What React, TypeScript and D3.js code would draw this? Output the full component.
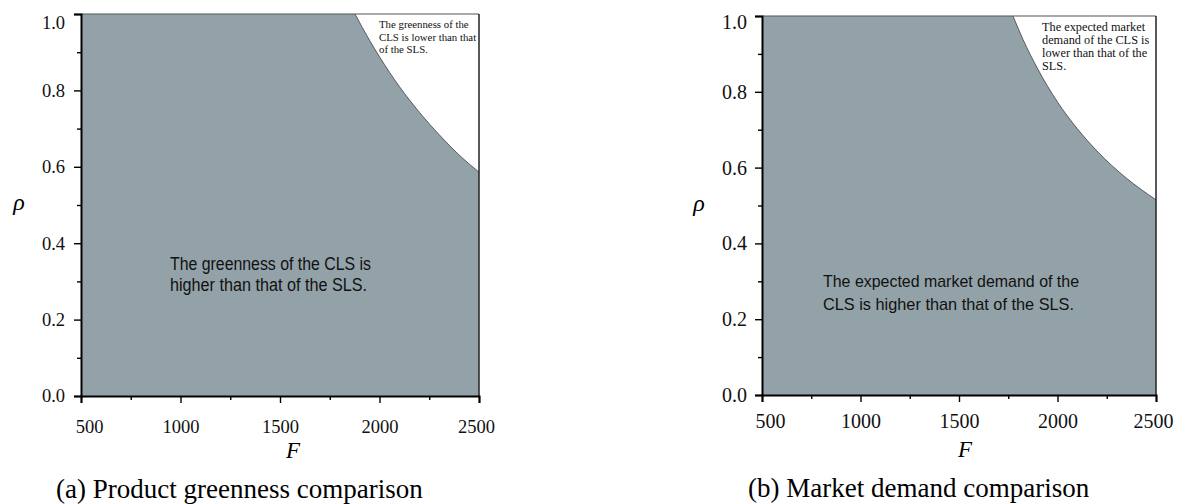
import React, { useEffect, useRef } from 'react';
import * as d3 from 'd3';

const fTicks = [500, 1000, 1500, 2000, 2500];
const fMinor = [750, 1250, 1750, 2250];
const rhoTicks = [0, 0.2, 0.4, 0.6, 0.8, 1.0];
const rhoMinor = [0.1, 0.3, 0.5, 0.7, 0.9];

// boundary of the grey region, panel (a): greenness
const greenF = [1877, 1950, 2000, 2100, 2200, 2300, 2400, 2500];
const greenRho = [1.0, 0.931, 0.888, 0.81, 0.743, 0.684, 0.631, 0.586];

// boundary of the grey region, panel (b): market demand
const demandF = [1774, 1825, 1900, 2000, 2100, 2200, 2350, 2500];
const demandRho = [1.0, 0.938, 0.86, 0.773, 0.703, 0.644, 0.572, 0.515];

const greenInside = ['The greenness of the CLS is', 'higher than that of the SLS.'];
const greenCorner = ['The greenness of the', 'CLS is lower than that', 'of the SLS.'];
const demandInside = ['The expected market demand of the', 'CLS is higher than that of the SLS.'];
const demandCorner = ['The expected market', 'demand of the CLS is', 'lower than that of the', 'SLS.'];

const FILL = '#93a2a8';
const SERIF = '"Liberation Serif", "Times New Roman", serif';
const SANS = '"Liberation Sans Narrow", "Liberation Sans", Arial, sans-serif';

function drawPanel(svg, p) {
  const x = d3.scaleLinear().domain([500, 2500]).range([p.left, p.right]);
  const y = d3.scaleLinear().domain([0, 1]).range([p.bottom, p.top]);
  const g = svg.append('g');

  const pts = p.F.map((f, i) => [f, p.rho[i]]);
  const line = d3.line().x((d) => x(d[0])).y((d) => y(d[1])).curve(d3.curveMonotoneX);
  const curveStr = line(pts);

  // grey region
  g.append('path')
    .attr('d', `M${x(500)},${y(0)}L${x(500)},${y(1)}L${curveStr.slice(1)}L${x(2500)},${y(0)}Z`)
    .attr('fill', FILL);

  g.append('path')
    .attr('d', curveStr)
    .attr('fill', 'none')
    .attr('stroke', '#4a4f52')
    .attr('stroke-width', 0.9);

  // frame top / right
  g.append('line')
    .attr('x1', x(500)).attr('x2', x(2500))
    .attr('y1', y(1)).attr('y2', y(1))
    .attr('stroke', '#555').attr('stroke-width', 1);
  g.append('line')
    .attr('x1', x(2500)).attr('x2', x(2500))
    .attr('y1', y(0)).attr('y2', y(1))
    .attr('stroke', '#222').attr('stroke-width', 1.5);

  // axes
  const yAxis = g.append('g')
    .attr('transform', `translate(${p.left},0)`)
    .call(d3.axisLeft(y).tickValues(rhoTicks).tickSize(7).tickPadding(p.yPad)
      .tickFormat(d3.format('.1f')));
  const yMinor = g.append('g')
    .attr('transform', `translate(${p.left},0)`)
    .call(d3.axisLeft(y).tickValues(rhoMinor).tickSize(4).tickFormat(() => ''));
  const xAxis = g.append('g')
    .attr('transform', `translate(0,${p.bottom})`)
    .call(d3.axisBottom(x).tickValues(fTicks).tickSize(7).tickPadding(p.xPad)
      .tickFormat(d3.format('d')));
  const xMinor = g.append('g')
    .attr('transform', `translate(0,${p.bottom})`)
    .call(d3.axisBottom(x).tickValues(fMinor).tickSize(4).tickFormat(() => ''));

  [yAxis, xAxis, yMinor, xMinor].forEach((a) => {
    a.selectAll('.domain').attr('stroke', '#000').attr('stroke-width', 2);
    a.selectAll('.tick line').attr('stroke', '#000').attr('stroke-width', 1.4);
    a.selectAll('text')
      .attr('font-family', SERIF)
      .attr('font-size', p.tickFont)
      .attr('fill', '#111');
  });
  yMinor.select('.domain').remove();
  xMinor.select('.domain').remove();

  // the first/last labels are nudged as in the original
  xAxis.selectAll('.tick text').attr('dx', (d) => (d === 500 ? 8 : d === 2500 ? -3 : 0));
  yAxis.selectAll('.tick text').attr('dy', (d) => (d === 1 ? p.topLabelShift : '0.32em'));

  // axis titles
  g.append('text')
    .attr('x', p.rhoX).attr('y', p.rhoY)
    .attr('text-anchor', 'middle')
    .attr('font-family', SERIF).attr('font-style', 'italic')
    .attr('font-size', 24)
    .text('\u03c1');
  g.append('text')
    .attr('x', p.fX).attr('y', p.fY)
    .attr('text-anchor', 'middle')
    .attr('font-family', SERIF).attr('font-style', 'italic')
    .attr('font-size', 23)
    .text('F');

  // annotations
  p.inside.forEach((t, i) => {
    g.append('text')
      .attr('x', p.inX).attr('y', p.inY + i * p.inStep)
      .attr('font-family', SANS).attr('font-size', p.inFont)
      .attr('fill', '#111')
      .attr('textLength', p.inLen[i]).attr('lengthAdjust', 'spacingAndGlyphs')
      .text(t);
  });
  p.corner.forEach((t, i) => {
    g.append('text')
      .attr('x', p.cX).attr('y', p.cY + i * p.cStep)
      .attr('font-family', SERIF).attr('font-size', p.cFont)
      .attr('fill', '#111')
      .text(t);
  });

  g.append('text')
    .attr('x', p.capX).attr('y', p.capY)
    .attr('font-family', SERIF).attr('font-size', 27)
    .attr('fill', '#000')
    .text(p.caption);
}

export default function App() {
  const ref = useRef(null);

  useEffect(() => {
    const svg = d3.select(ref.current);
    svg.selectAll('*').remove();

    drawPanel(svg, {
      left: 81, right: 479, top: 14, bottom: 396,
      F: greenF, rho: greenRho,
      yPad: 9, xPad: 17, tickFont: 18.5, topLabelShift: '0.8em',
      rhoX: 19, rhoY: 210, fX: 293, fY: 458,
      inside: greenInside, inX: 170, inY: 270, inStep: 20.5, inFont: 17.5, inLen: [201, 197],
      corner: greenCorner, cX: 379, cY: 28.3, cStep: 12.5, cFont: 10.8,
      caption: '(a) Product greenness comparison', capX: 56, capY: 498,
    });

    drawPanel(svg, {
      left: 762, right: 1156, top: 16, bottom: 395,
      F: demandF, rho: demandRho,
      yPad: 8, xPad: 12, tickFont: 20, topLabelShift: '0.6em',
      rhoX: 699, rhoY: 211, fX: 965, fY: 457,
      inside: demandInside, inX: 823, inY: 287, inStep: 23, inFont: 17, inLen: [256, 251],
      corner: demandCorner, cX: 1042, cY: 30.5, cStep: 13, cFont: 12.3,
      caption: '(b) Market demand comparison', capX: 748, capY: 497,
    });
  }, []);

  return (
    <svg
      ref={ref}
      width={1179}
      height={504}
      style={{ position: 'absolute', left: 0, top: 0, background: '#fff' }}
    />
  );
}
